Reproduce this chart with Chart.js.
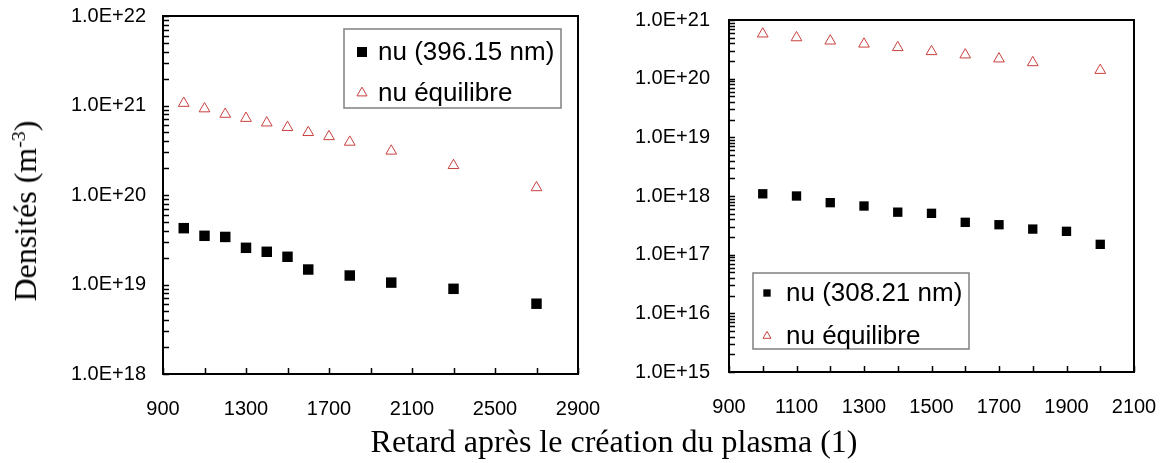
<!DOCTYPE html>
<html>
<head>
<meta charset="utf-8">
<script src="https://cdn.jsdelivr.net/npm/chart.js@4.4.0/dist/chart.umd.min.js"></script>
<style>
  body { margin: 0; background: #fff; }
  #wrap { position: relative; width: 1163px; height: 463px; overflow: hidden; }
  #wrap canvas { position: absolute; left: 0; top: 0; }
  .ytitle {
    position: absolute; left: 25px; top: 211px;
    transform: translate(-50%, -50%) rotate(-90deg);
    font-family: 'Liberation Serif', 'Times New Roman', serif;
    font-size: 32px; line-height: 1; white-space: nowrap; color: #000;
  }
  .ytitle sup { font-size: 0.62em; vertical-align: 0.55em; line-height: 0; }
  .xtitle {
    position: absolute; left: 614px; top: 425px;
    transform: translateX(-50%);
    font-family: 'Liberation Serif', 'Times New Roman', serif;
    font-size: 32px; line-height: 1; white-space: nowrap; color: #000;
  }
</style>
</head>
<body>
<div id="wrap">
  <canvas id="left" width="1163" height="463"></canvas>
  <canvas id="right" width="1163" height="463"></canvas>
  <div class="ytitle">Densités (m<sup>-3</sup>)</div>
  <div class="xtitle">Retard après le création du plasma (1)</div>
</div>
<script>
// left panel: 396.15 nm line
const delays396 = [1000, 1100, 1200, 1300, 1400, 1500, 1600, 1800, 2000, 2300, 2700];
const nu396 = [4.26e19, 3.5e19, 3.4e19, 2.57e19, 2.32e19, 2.04e19, 1.47e19, 1.26e19, 1.05e19, 8.95e18, 6.1e18];
const delaysEqLeft = [1000, 1100, 1200, 1300, 1400, 1500, 1600, 1700, 1800, 2000, 2300, 2700];
const nuEqLeft = [1.06e21, 9.2e20, 8.0e20, 7.2e20, 6.4e20, 5.7e20, 5.0e20, 4.5e20, 3.9e20, 3.1e20, 2.14e20, 1.21e20];
const xLabelsLeft = [900, 1300, 1700, 2100, 2500, 2900];

// right panel: 308.21 nm line
const delays308 = [1000, 1100, 1200, 1300, 1400, 1500, 1600, 1700, 1800, 1900, 2000];
const nu308 = [1.09e18, 1.0e18, 7.7e17, 6.75e17, 5.3e17, 5.07e17, 3.56e17, 3.24e17, 2.73e17, 2.5e17, 1.5e17];
const delaysEqRight = [1000, 1100, 1200, 1300, 1400, 1500, 1600, 1700, 1800, 2000];
const nuEqRight = [5.8e20, 5.0e20, 4.4e20, 3.9e20, 3.4e20, 2.9e20, 2.55e20, 2.18e20, 1.88e20, 1.39e20];
const xLabelsRight = [900, 1100, 1300, 1500, 1700, 1900, 2100];

const SANS = "'Liberation Sans', Arial, Helvetica, sans-serif";
const RED = '#c8413f';

function points(xs, ys) {
  return xs.map((x, i) => ({ x: x, y: ys[i] }));
}

function sciLabel(v) {
  const e = Math.log10(v);
  if (Math.abs(e - Math.round(e)) > 1e-9) return '';
  return '1.0E+' + Math.round(e);
}

// black frame around the plot area + short inward tick marks
const frameTicks = {
  id: 'frameTicks',
  afterDatasetsDraw(chart) {
    const ctx = chart.ctx;
    const a = chart.chartArea;
    const xs = chart.scales.x, ys = chart.scales.y;
    ctx.save();
    ctx.strokeStyle = '#000';
    ctx.lineWidth = 1.5;
    ctx.beginPath();
    xs.ticks.forEach(t => {
      const px = Math.round(xs.getPixelForValue(t.value)) + 0.5;
      ctx.moveTo(px, a.bottom);
      ctx.lineTo(px, a.bottom - 6);
    });
    ys.ticks.forEach(t => {
      const e = Math.floor(Math.log10(t.value) + 1e-9);
      const sig = t.value / Math.pow(10, e);
      if (Math.abs(sig - Math.round(sig)) > 1e-6) return;
      const py = Math.round(ys.getPixelForValue(t.value)) + 0.5;
      ctx.moveTo(a.left, py);
      ctx.lineTo(a.left + 6, py);
    });
    ctx.stroke();
    ctx.lineWidth = 2;
    ctx.strokeRect(a.left, a.top, a.right - a.left, a.bottom - a.top);
    ctx.restore();
  }
};

// legend box drawn inside the plot area
const boxLegend = {
  id: 'boxLegend',
  afterDraw(chart, args, o) {
    const ctx = chart.ctx;
    ctx.save();
    ctx.fillStyle = '#fff';
    ctx.fillRect(o.x, o.y, o.w, o.h);
    ctx.strokeStyle = '#808080';
    ctx.lineWidth = 1.5;
    ctx.strokeRect(o.x, o.y, o.w, o.h);
    chart.data.datasets.forEach((ds, i) => {
      const cy = o.y + o.first + i * o.gap;
      ctx.fillStyle = ds.backgroundColor;
      ctx.strokeStyle = ds.borderColor;
      ctx.lineWidth = ds.borderWidth;
      Chart.helpers.drawPoint(ctx, {
        pointStyle: ds.pointStyle,
        radius: ds.pointStyle === 'rect' ? o.rectRadius : o.triRadius,
        rotation: 0,
        borderWidth: ds.borderWidth
      }, o.x + o.markerX, cy);
      ctx.fillStyle = '#000';
      ctx.font = '26px ' + SANS;
      ctx.textBaseline = 'alphabetic';
      ctx.textAlign = 'left';
      ctx.fillText(ds.label, o.x + o.textX, cy + 8);
    });
    ctx.restore();
  }
};

function makeChart(id, cfg) {
  return new Chart(document.getElementById(id), {
    type: 'scatter',
    data: {
      datasets: [
        {
          label: cfg.lineLabel,
          data: points(cfg.lineX, cfg.lineY),
          pointStyle: 'rect',
          pointRadius: cfg.rectRadius,
          backgroundColor: '#000',
          borderColor: '#000',
          borderWidth: 0
        },
        {
          label: 'nu équilibre',
          data: points(cfg.eqX, cfg.eqY),
          pointStyle: 'triangle',
          pointRadius: 6.2,
          backgroundColor: 'rgba(255,255,255,0)',
          borderColor: RED,
          borderWidth: 1
        }
      ]
    },
    options: {
      responsive: false,
      animation: false,
      events: [],
      layout: { padding: cfg.padding },
      plugins: {
        legend: { display: false },
        tooltip: { enabled: false },
        boxLegend: cfg.legend
      },
      scales: {
        x: {
          type: 'linear',
          min: cfg.xMin, max: cfg.xMax,
          grid: { display: false, drawTicks: false },
          border: { display: false },
          afterFit: s => {
            s.height = cfg.xHeight;
            s.paddingLeft = 0; s.paddingRight = 0;
          },
          ticks: {
            stepSize: cfg.xStep,
            autoSkip: false,
            maxRotation: 0,
            padding: 23,
            color: '#000',
            font: { family: SANS, size: 20 },
            callback: v => cfg.xLabels.includes(v) ? String(v) : ''
          }
        },
        y: {
          type: 'logarithmic',
          min: cfg.yMin, max: cfg.yMax,
          grid: { display: false, drawTicks: false },
          border: { display: false },
          afterFit: s => {
            s.width = cfg.yWidth;
            s.paddingTop = 0; s.paddingBottom = 0;
          },
          ticks: {
            autoSkip: false,
            padding: cfg.yPad,
            color: '#000',
            font: { family: SANS, size: 20 },
            callback: v => sciLabel(v)
          }
        }
      }
    },
    plugins: [frameTicks, boxLegend]
  });
}

makeChart('left', {
  lineLabel: 'nu (396.15 nm)',
  lineX: delays396, lineY: nu396,
  eqX: delaysEqLeft, eqY: nuEqLeft,
  rectRadius: 7.4,
  xMin: 900, xMax: 2900, xStep: 200, xLabels: xLabelsLeft,
  yMin: 1e18, yMax: 1e22,
  padding: { left: 0, top: 16, right: 585, bottom: 0 },
  yWidth: 163, xHeight: 89, yPad: 17,
  legend: { x: 344, y: 29, w: 217, h: 79, first: 23, gap: 41, markerX: 18, textX: 34, rectRadius: 7.1, triRadius: 5.8 }
});

makeChart('right', {
  lineLabel: 'nu (308.21 nm)',
  lineX: delays308, lineY: nu308,
  eqX: delaysEqRight, eqY: nuEqRight,
  rectRadius: 6.6,
  xMin: 900, xMax: 2100, xStep: 100, xLabels: xLabelsRight,
  yMin: 1e15, yMax: 1e21,
  padding: { left: 0, top: 20, right: 29, bottom: 0 },
  yWidth: 729, xHeight: 91, yPad: 19,
  legend: { x: 753, y: 273, w: 216, h: 76, first: 20, gap: 43, markerX: 14, textX: 33, rectRadius: 5.2, triRadius: 4.6 }
});
</script>
</body>
</html>
